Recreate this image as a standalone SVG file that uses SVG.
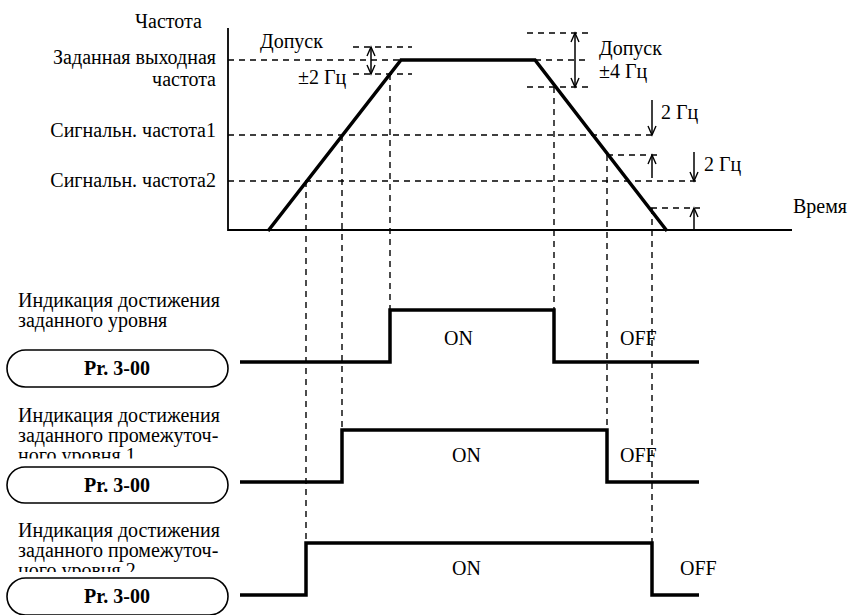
<svg xmlns="http://www.w3.org/2000/svg" width="848" height="615" viewBox="0 0 848 615">
<style>
text{font-family:"Liberation Serif","Times New Roman",serif;font-size:20px;fill:#000}
.r{text-anchor:end}
.b{font-weight:bold;text-anchor:middle}
.ax{stroke:#000;stroke-width:1.8;fill:none}
.d{stroke:#000;stroke-width:1.4;stroke-dasharray:6 5;fill:none}
.dv{stroke:#000;stroke-width:1.4;stroke-dasharray:6 5;fill:none}
.th{stroke:#000;stroke-width:3.5;fill:none;stroke-linejoin:miter}
.ar{stroke:#000;stroke-width:1.5;fill:none}
.box{stroke:#000;stroke-width:1.6;fill:#fff}
</style>
<defs>
<marker id="ah" markerUnits="userSpaceOnUse" markerWidth="12" markerHeight="12" viewBox="-10 -6 12 12" refX="0" refY="0" orient="auto-start-reverse">
<path d="M-9,-4 L0,0 L-9,4" fill="none" stroke="#000" stroke-width="1.4"/>
</marker>
<clipPath id="c2"><rect x="0" y="380" width="240" height="78.5"/></clipPath>
<clipPath id="c3"><rect x="0" y="500" width="240" height="72"/></clipPath>
</defs>

<g id="connectors">
<path class="ax" d="M228,28 V230 H792"/>
<path class="d" d="M228,60 H401"/>
<path class="d" d="M535,60 H590"/>
<path class="d" d="M228,135 H652"/>
<path class="d" d="M228,181 H697"/>
<path class="d" d="M353,47 H412"/>
<path class="d" d="M353,74 H412"/>
<path class="d" d="M527,33 H590"/>
<path class="d" d="M527,87 H590"/>
<path class="d" d="M607,155 H657"/>
<path class="d" d="M651,208 H700"/>
<path class="dv" d="M306,181 V543"/>
<path class="dv" d="M342,135 V430"/>
<path class="dv" d="M390,74 V310"/>
<path class="dv" d="M554,87 V310"/>
<path class="dv" d="M607,155 V430"/>
<path class="dv" d="M652,208 V543"/>
<path class="th" d="M268,231 L401,60 H535 L667,231"/>
<line class="ar" x1="371" y1="47" x2="371" y2="74" marker-start="url(#ah)" marker-end="url(#ah)"/>
<line class="ar" x1="575" y1="33" x2="575" y2="87" marker-start="url(#ah)" marker-end="url(#ah)"/>
<line class="ar" x1="652" y1="100" x2="652" y2="135" marker-end="url(#ah)"/>
<line class="ar" x1="652" y1="178" x2="652" y2="155" marker-end="url(#ah)"/>
<line class="ar" x1="694" y1="152" x2="694" y2="181" marker-end="url(#ah)"/>
<line class="ar" x1="694" y1="230" x2="694" y2="208" marker-end="url(#ah)"/>
<path class="th" d="M240,362 H390 V310 H554 V362 H699"/>
<path class="th" d="M240,482 H342 V430 H607 V482 H699"/>
<path class="th" d="M240,595 H306 V543 H652 V595 H699"/>
</g>

<g id="axis-labels">
<text x="135" y="28">Частота</text>
<text class="r" x="216" y="64">Заданная выходная</text>
<text class="r" x="216" y="86">частота</text>
<text class="r" x="216" y="137">Сигнальн. частота1</text>
<text class="r" x="216" y="187">Сигнальн. частота2</text>
<text x="793" y="213">Время</text>
</g>

<g id="tolerance-labels">
<text x="260" y="48">Допуск</text>
<text x="298" y="84">±2 Гц</text>
<text x="599" y="55">Допуск</text>
<text x="599" y="78">±4 Гц</text>
<text x="661" y="119">2 Гц</text>
<text x="704" y="171">2 Гц</text>
</g>

<g id="signal1">
<text x="18" y="307">Индикация достижения</text>
<text x="18" y="327">заданного уровня</text>
<rect class="box" x="7" y="350" width="221" height="37" rx="18.5"/>
<text class="b" x="117" y="375">Pr. 3-00</text>
<text x="444" y="345">ON</text>
<text x="620" y="345">OFF</text>
</g>

<g id="signal2">
<g clip-path="url(#c2)">
<text x="18" y="422">Индикация достижения</text>
<text x="18" y="442">заданного промежуточ-</text>
<text x="18" y="462">ного  уровня 1.</text>
</g>
<rect class="box" x="7" y="467" width="221" height="36" rx="18"/>
<text class="b" x="117" y="492">Pr. 3-00</text>
<text x="452" y="462">ON</text>
<text x="620" y="462">OFF</text>
</g>

<g id="signal3">
<g clip-path="url(#c3)">
<text x="18" y="537">Индикация достижения</text>
<text x="18" y="557">заданного промежуточ-</text>
<text x="18" y="577">ного  уровня 2.</text>
</g>
<rect class="box" x="7" y="578" width="221" height="37" rx="18.5"/>
<text class="b" x="117" y="603">Pr. 3-00</text>
<text x="452" y="575">ON</text>
<text x="680" y="575">OFF</text>
</g>
</svg>
